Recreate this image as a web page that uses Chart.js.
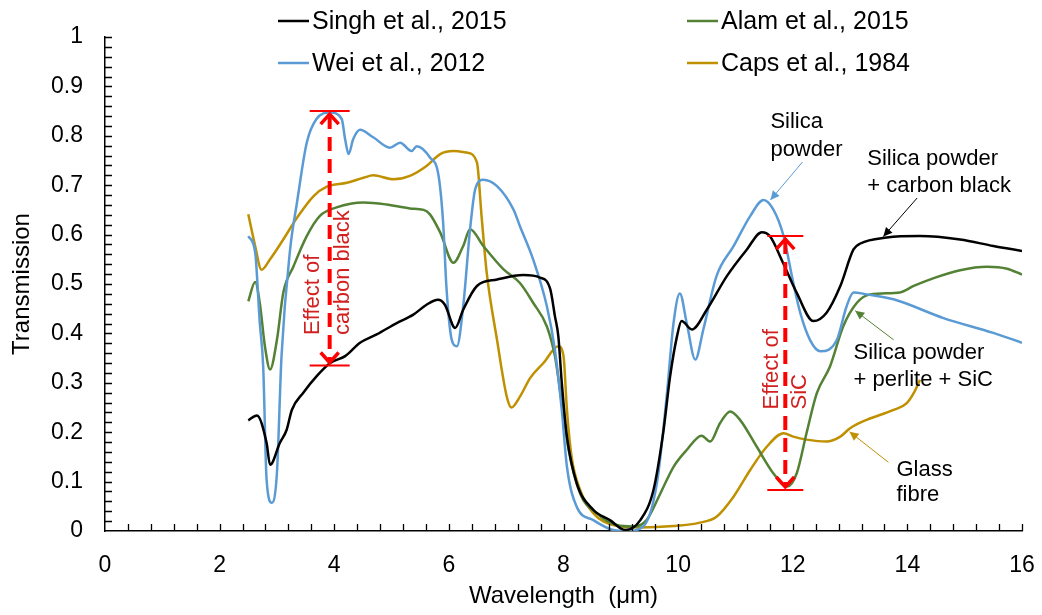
<!DOCTYPE html>
<html>
<head>
<meta charset="utf-8">
<script src="https://cdn.jsdelivr.net/npm/chart.js@4.4.1/dist/chart.umd.min.js"></script>
<style>
  html, body { margin: 0; padding: 0; background: #fff; }
  #wrap { width: 1042px; height: 615px; position: relative; }
</style>
</head>
<body>
<div id="wrap"><canvas id="chartTrans"></canvas></div>
<script>
// Datos (longitud de onda en um, transmision)
const singhX = [2.5, 2.65, 2.82, 2.88, 3.05, 3.17, 3.26, 3.46, 3.69, 3.93, 4.19, 4.45, 4.74, 5.09, 5.38, 5.61, 5.81, 5.93, 6.11, 6.25, 6.49, 6.84, 7.3, 7.59, 7.77, 7.85, 7.91, 7.97, 8.06, 8.23, 8.52, 8.81, 9.08, 9.34, 9.57, 9.74, 9.86, 9.98, 10.06, 10.24, 10.5, 10.85, 11.2, 11.46, 11.6, 11.83, 12.07, 12.36, 12.59, 12.83, 13.06, 13.18, 13.64, 14.22, 14.92, 15.5, 16.0];
const singhY = [0.224, 0.234, 0.178, 0.134, 0.178, 0.205, 0.245, 0.28, 0.313, 0.34, 0.354, 0.381, 0.398, 0.421, 0.438, 0.458, 0.468, 0.458, 0.411, 0.448, 0.496, 0.509, 0.518, 0.513, 0.489, 0.435, 0.394, 0.3, 0.191, 0.097, 0.043, 0.022, 0.002, 0.022, 0.083, 0.199, 0.313, 0.394, 0.425, 0.408, 0.448, 0.516, 0.57, 0.605, 0.597, 0.543, 0.482, 0.425, 0.442, 0.496, 0.57, 0.582, 0.594, 0.597, 0.59, 0.577, 0.567];

const weiX = [2.5, 2.62, 2.7, 2.76, 2.82, 2.91, 3.0, 3.08, 3.23, 3.35, 3.52, 3.69, 3.93, 4.13, 4.19, 4.25, 4.33, 4.45, 4.68, 4.97, 5.15, 5.35, 5.44, 5.67, 5.82, 5.9, 5.96, 6.05, 6.14, 6.25, 6.37, 6.46, 6.6, 6.84, 7.13, 7.24, 7.47, 7.71, 7.85, 7.97, 8.06, 8.23, 8.52, 8.87, 9.1, 9.39, 9.63, 9.8, 9.92, 10.03, 10.15, 10.3, 10.44, 10.67, 10.97, 11.26, 11.49, 11.66, 11.84, 12.01, 12.13, 12.3, 12.48, 12.77, 12.94, 13.06, 13.29, 13.76, 14.63, 15.5, 16.0];
const weiY = [0.597, 0.564, 0.422, 0.333, 0.103, 0.057, 0.118, 0.354, 0.57, 0.665, 0.786, 0.834, 0.847, 0.834, 0.793, 0.763, 0.793, 0.812, 0.797, 0.776, 0.786, 0.769, 0.779, 0.756, 0.719, 0.624, 0.489, 0.387, 0.374, 0.455, 0.611, 0.692, 0.711, 0.698, 0.65, 0.617, 0.55, 0.455, 0.367, 0.245, 0.13, 0.049, 0.022, 0.002, 0.0, 0.009, 0.097, 0.272, 0.421, 0.481, 0.421, 0.347, 0.408, 0.516, 0.577, 0.638, 0.67, 0.651, 0.597, 0.502, 0.442, 0.387, 0.364, 0.387, 0.455, 0.483, 0.479, 0.469, 0.431, 0.401, 0.381];

const alamX = [2.5, 2.62, 2.7, 2.79, 2.88, 3.0, 3.11, 3.29, 3.52, 3.75, 4.04, 4.51, 4.91, 5.32, 5.56, 5.67, 5.85, 6.08, 6.25, 6.37, 6.6, 6.95, 7.24, 7.47, 7.71, 7.85, 7.97, 8.09, 8.29, 8.58, 8.93, 9.22, 9.45, 9.69, 9.92, 10.15, 10.41, 10.56, 10.73, 10.91, 11.08, 11.37, 11.66, 11.9, 12.07, 12.24, 12.42, 12.65, 12.88, 13.12, 13.35, 13.87, 14.11, 14.46, 14.92, 15.39, 15.74, 16.0];
const alamY = [0.465, 0.504, 0.462, 0.374, 0.327, 0.387, 0.482, 0.536, 0.597, 0.638, 0.655, 0.665, 0.661, 0.653, 0.65, 0.641, 0.604, 0.543, 0.577, 0.611, 0.577, 0.53, 0.502, 0.462, 0.414, 0.354, 0.259, 0.164, 0.076, 0.036, 0.012, 0.009, 0.022, 0.076, 0.13, 0.164, 0.193, 0.181, 0.218, 0.242, 0.225, 0.171, 0.117, 0.09, 0.117, 0.198, 0.279, 0.333, 0.414, 0.462, 0.479, 0.483, 0.496, 0.512, 0.528, 0.535, 0.531, 0.519];

const capsX = [2.5, 2.62, 2.73, 2.88, 3.11, 3.35, 3.64, 3.87, 4.22, 4.51, 4.68, 5.03, 5.32, 5.61, 5.85, 6.08, 6.31, 6.49, 6.57, 6.66, 6.84, 7.01, 7.09, 7.24, 7.42, 7.65, 7.91, 8.0, 8.06, 8.14, 8.29, 8.52, 8.87, 9.34, 9.92, 10.38, 10.67, 10.97, 11.26, 11.55, 11.84, 12.01, 12.24, 12.59, 12.83, 13.0, 13.29, 13.76, 13.99, 14.11, 14.22];
const capsY = [0.641, 0.577, 0.529, 0.55, 0.59, 0.634, 0.678, 0.697, 0.705, 0.715, 0.72, 0.712, 0.719, 0.739, 0.763, 0.769, 0.766, 0.746, 0.638, 0.523, 0.387, 0.272, 0.25, 0.272, 0.31, 0.34, 0.374, 0.354, 0.245, 0.151, 0.083, 0.036, 0.012, 0.007, 0.01, 0.017, 0.029, 0.07, 0.124, 0.171, 0.198, 0.191, 0.185, 0.181, 0.191, 0.208, 0.225, 0.245, 0.259, 0.279, 0.306];

const seriesNames = ['Singh et al., 2015', 'Alam et al., 2015', 'Wei et al., 2012', 'Caps et al., 1984'];
const seriesColors = ['#000000', '#548235', '#5B9BD5', '#BF9000'];
const xTicks = [0, 2, 4, 6, 8, 10, 12, 14, 16];

const FONT = '"Liberation Sans", Arial, sans-serif';
const RED = '#FF0000';
const RED_TEXT = '#D21F1F';

function pts(xs, ys) {
    return xs.map((x, i) => ({ x: x, y: ys[i] }));
}

// Leyenda de 2 columnas (dibujada a mano)
const legendPlugin = {
    id: 'legend2x2',
    afterDraw(chart) {
        const ctx = chart.ctx;
        const items = [
            { name: seriesNames[0], color: seriesColors[0], x: 278, y: 21 },
            { name: seriesNames[1], color: seriesColors[1], x: 687, y: 21 },
            { name: seriesNames[2], color: seriesColors[2], x: 278, y: 63 },
            { name: seriesNames[3], color: seriesColors[3], x: 687, y: 63 }
        ];
        ctx.save();
        ctx.font = '25px ' + FONT;
        ctx.textBaseline = 'middle';
        ctx.textAlign = 'left';
        items.forEach(it => {
            ctx.strokeStyle = it.color;
            ctx.lineWidth = 2.5;
            ctx.beginPath();
            ctx.moveTo(it.x, it.y);
            ctx.lineTo(it.x + 31, it.y);
            ctx.stroke();
            ctx.fillStyle = '#000';
            ctx.fillText(it.name, it.x + 34, it.y + 1);
        });
        ctx.restore();
    }
};

// Marcas menores hacia dentro
const minorTicksPlugin = {
    id: 'minorTicks',
    afterDraw(chart) {
        const ctx = chart.ctx;
        const xs = chart.scales.x, ys = chart.scales.y;
        const x0 = xs.getPixelForValue(0), y0 = ys.getPixelForValue(0);
        ctx.save();
        ctx.strokeStyle = '#000';
        ctx.lineWidth = 1.3;
        ctx.beginPath();
        for (let i = 1; i <= 40; i++) {
            const px = Math.round(xs.getPixelForValue(i * 0.4)) + 0.5;
            ctx.moveTo(px, y0);
            ctx.lineTo(px, y0 - 7);
        }
        for (let i = 1; i <= 50; i++) {
            const py = Math.round(ys.getPixelForValue(i * 0.02)) + 0.5;
            ctx.moveTo(x0, py);
            ctx.lineTo(x0 + 7, py);
        }
        ctx.stroke();
        ctx.restore();
    }
};

function arrowHead(ctx, x1, y1, x2, y2, size, filled) {
    const a = Math.atan2(y2 - y1, x2 - x1);
    ctx.beginPath();
    ctx.moveTo(x2 - size * Math.cos(a - 0.45), y2 - size * Math.sin(a - 0.45));
    ctx.lineTo(x2, y2);
    ctx.lineTo(x2 - size * Math.cos(a + 0.45), y2 - size * Math.sin(a + 0.45));
    if (filled) { ctx.closePath(); ctx.fill(); } else { ctx.stroke(); }
}

// Anotaciones: flechas rojas y textos
const annotPlugin = {
    id: 'annotations',
    afterDatasetsDraw(chart) {
        const ctx = chart.ctx;
        const xs = chart.scales.x, ys = chart.scales.y;
        const X = v => xs.getPixelForValue(v);
        const Y = v => ys.getPixelForValue(v);
        ctx.save();

        // flechas "Effect of"
        const effects = [
            { x: 3.92, top: 0.85, bottom: 0.335, half: 20, lines: ['Effect of', 'carbon black'], tx: [3.62, 4.15], tb: 0.397 },
            { x: 11.87, top: 0.597, bottom: 0.083, half: 18, lines: ['Effect of', 'SiC'], tx: [11.64, 12.13], tb: 0.246 }
        ];
        effects.forEach(e => {
            const px = X(e.x), pt = Y(e.top), pb = Y(e.bottom);
            ctx.strokeStyle = RED;
            ctx.lineWidth = 2;
            ctx.beginPath();
            ctx.moveTo(px - e.half, pt); ctx.lineTo(px + e.half, pt);
            ctx.moveTo(px - e.half, pb); ctx.lineTo(px + e.half, pb);
            ctx.stroke();
            ctx.lineWidth = 4;
            ctx.setLineDash([14, 8]);
            ctx.beginPath();
            ctx.moveTo(px, pt + 4); ctx.lineTo(px, pb - 4);
            ctx.stroke();
            ctx.setLineDash([]);
            ctx.lineWidth = 3.5;
            ctx.beginPath();
            ctx.moveTo(px - 9, pt + 13); ctx.lineTo(px, pt + 3); ctx.lineTo(px + 9, pt + 13);
            ctx.moveTo(px - 9, pb - 13); ctx.lineTo(px, pb - 3); ctx.lineTo(px + 9, pb - 13);
            ctx.stroke();

            ctx.fillStyle = RED_TEXT;
            ctx.font = '22px ' + FONT;
            ctx.textAlign = 'left';
            ctx.textBaseline = 'middle';
            e.lines.forEach((t, i) => {
                ctx.save();
                ctx.translate(X(e.tx[i]), Y(e.tb));
                ctx.rotate(-Math.PI / 2);
                ctx.fillText(t, 0, 0);
                ctx.restore();
            });
        });

        // textos con flechas finas
        const labels = [
            { lines: ['Silica', 'powder'], tx: 11.61, ty: [0.828, 0.772], color: '#5B9BD5', from: [12.17, 0.747], to: [11.61, 0.67] },
            { lines: ['Silica powder', '+ carbon black'], tx: 13.3, ty: [0.753, 0.699], color: '#000000', from: [14.17, 0.674], to: [13.58, 0.596] },
            { lines: ['Silica powder', '+ perlite + SiC'], tx: 13.06, ty: [0.361, 0.306], color: '#548235', from: [13.76, 0.387], to: [13.09, 0.446] },
            { lines: ['Glass', 'fibre'], tx: 13.81, ty: [0.124, 0.074], color: '#BF9000', from: [13.67, 0.139], to: [12.99, 0.201] }
        ];
        labels.forEach(l => {
            ctx.fillStyle = '#000';
            ctx.font = '22px ' + FONT;
            ctx.textAlign = 'left';
            ctx.textBaseline = 'middle';
            l.lines.forEach((t, i) => ctx.fillText(t, X(l.tx), Y(l.ty[i])));
            const x1 = X(l.from[0]), y1 = Y(l.from[1]), x2 = X(l.to[0]), y2 = Y(l.to[1]);
            ctx.strokeStyle = l.color;
            ctx.fillStyle = l.color;
            ctx.lineWidth = 1;
            ctx.beginPath();
            ctx.moveTo(x1, y1); ctx.lineTo(x2, y2);
            ctx.stroke();
            arrowHead(ctx, x1, y1, x2, y2, 10, true);
        });
        ctx.restore();
    }
};

const ctxEl = document.getElementById('chartTrans');
const mkSet = (label, xs, ys, color) => ({
    label: label,
    data: pts(xs, ys),
    borderColor: color,
    backgroundColor: color,
    borderWidth: 2.5,
    pointRadius: 0,
    showLine: true,
    fill: false,
    cubicInterpolationMode: 'monotone'
});

new Chart(ctxEl, {
    type: 'scatter',
    data: {
        datasets: [
            mkSet(seriesNames[0], singhX, singhY, seriesColors[0]),
            mkSet(seriesNames[2], weiX, weiY, seriesColors[2]),
            mkSet(seriesNames[1], alamX, alamY, seriesColors[1]),
            mkSet(seriesNames[3], capsX, capsY, seriesColors[3])
        ]
    },
    options: {
        responsive: true,
        maintainAspectRatio: false,
        animation: false,
        layout: { padding: { left: 0, right: 20, top: 37, bottom: 0 } },
        plugins: {
            legend: { display: false },
            tooltip: { enabled: false }
        },
        scales: {
            x: {
                type: 'linear',
                min: 0, max: 16,
                afterBuildTicks: s => { s.ticks = xTicks.map(v => ({ value: v })); },
                afterFit: s => { s.height = 84; s.paddingLeft = 0; s.paddingRight = 0; },
                grid: { display: true, drawOnChartArea: false, drawTicks: false },
                border: { display: true, color: '#000', width: 1.5 },
                ticks: { color: '#000', font: { family: FONT, size: 23 }, padding: 21, maxRotation: 0 },
                title: { display: true, text: 'Wavelength  (\u03bcm)', color: '#000', font: { family: FONT, size: 24 }, padding: { top: 0, bottom: 4 } }
            },
            y: {
                min: 0, max: 1,
                ticks: {
                    stepSize: 0.1, color: '#000', font: { family: FONT, size: 23 }, padding: 22,
                    callback: v => String(Math.round(v * 10) / 10)
                },
                afterFit: s => { s.width = 105; s.paddingTop = 0; s.paddingBottom = 0; },
                grid: { display: true, drawOnChartArea: false, drawTicks: false },
                border: { display: true, color: '#000', width: 1.5 },
                title: { display: true, text: 'Transmission', color: '#000', font: { family: FONT, size: 24 }, padding: { top: 8, bottom: 0 } }
            }
        }
    },
    plugins: [legendPlugin, minorTicksPlugin, annotPlugin]
});
</script>
</body>
</html>
